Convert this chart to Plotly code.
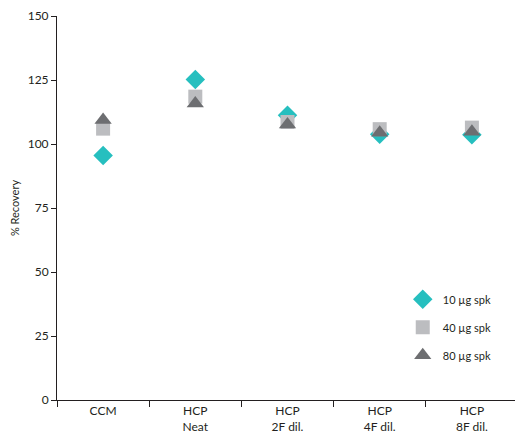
import plotly.graph_objects as go

categories = ["CCM", "HCP<br>Neat", "HCP<br>2F dil.", "HCP<br>4F dil.", "HCP<br>8F dil."]
spk_10 = [95.5, 125.2, 111.2, 103.8, 103.6]
spk_40 = [106.0, 118.5, 108.6, 105.8, 106.4]
spk_80 = [109.4, 115.8, 107.6, 104.4, 104.8]

series = [
    ("10 µg spk", spk_10, "diamond", "#26bfbf", 15),
    ("40 µg spk", spk_40, "square", "#bcbdc0", 14),
    ("80 µg spk", spk_80, "triangle-up", "#6d6e71", 15),
]

fig = go.Figure()
for name, vals, sym, col, sz in series:
    fig.add_trace(go.Scatter(
        x=categories, y=vals, mode="markers", name=name, legendgroup=name,
        marker=dict(symbol=sym, color=col, size=sz, line=dict(width=0)),
    ))

# page body adds 8px, so the figure is a bit smaller
fig.update_layout(
    width=515, height=435,
    margin=dict(l=49, r=5, t=8, b=43),
    plot_bgcolor="white", paper_bgcolor="white",
    font=dict(family="Lato", size=12, color="#231f20"),
    showlegend=True,
    legend=dict(x=0.75, y=0.3, xanchor="left", yanchor="top",
                bgcolor="rgba(0,0,0,0)", font=dict(size=11, color="#231f20"),
                itemsizing="trace", tracegroupgap=9),
)
fig.update_xaxes(
    type="category", range=[-0.5, 4.5], tickson="boundaries",
    ticks="outside", ticklen=6, tickcolor="#231f20", automargin=False,
    showline=True, linecolor="#231f20", linewidth=1,
    showgrid=False, zeroline=False, tickfont=dict(size=12, color="#231f20"),
)
fig.update_yaxes(
    range=[0, 150], tickvals=[0, 25, 50, 75, 100, 125, 150],
    ticks="outside", ticklen=5, tickcolor="#231f20", automargin=False,
    showline=True, linecolor="#231f20", linewidth=1,
    showgrid=False, zeroline=False, tickfont=dict(size=12, color="#231f20"),
    title=dict(text="% Recovery", font=dict(size=11, color="#231f20"), standoff=12),
)

fig.write_html("out.html")
